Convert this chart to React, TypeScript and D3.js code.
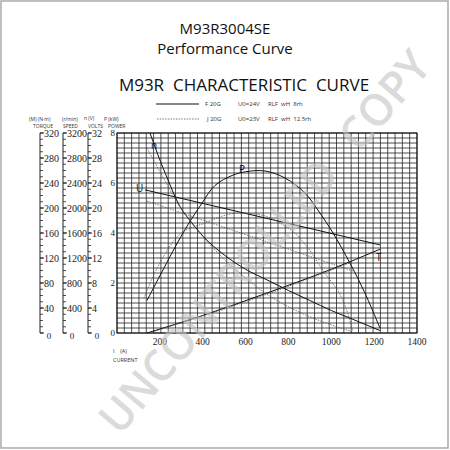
import React from 'react';
import * as d3 from 'd3';

// ---- data ----
const currentTicks = [200, 400, 600, 800, 1000, 1200, 1400];
const powerTicks = [0, 2, 4, 6, 8];
const torqueTicks = [0, 40, 80, 120, 160, 200, 240, 280, 320];
const speedTicks = [0, 400, 800, 1200, 1600, 2000, 2400, 2800, 3200];
const voltTicks = [0, 4, 8, 12, 16, 20, 24, 28, 32];

// solid curves (F 20G, U0=24V)
const nSolidI = [154, 191, 238, 285, 350, 401, 500, 600, 700, 800, 900, 1000, 1100, 1227];
const nSolidV = [3200, 2850, 2450, 2080, 1760, 1550, 1250, 1020, 850, 680, 520, 360, 220, 40];
const uSolidI = [131, 1227];
const uSolidV = [22.9, 14.1];
const tSolidI = [140, 400, 700, 1000, 1227];
const tSolidV = [0, 28, 64, 102, 134];
const pSolidI = [140, 308, 397, 457, 537, 600, 691, 784, 877, 947, 1008, 1087, 1157, 1227];
const pSolidV = [1.3, 4.0, 5.2, 5.9, 6.3, 6.45, 6.48, 6.2, 5.6, 4.8, 4.0, 2.8, 1.6, 0.2];

// dotted curves (J 20G, U0=23V)
const nDotI = [140, 201, 303, 387, 500, 600, 700, 800, 900, 1000, 1100];
const nDotV = [2960, 2576, 1968, 1600, 1180, 880, 620, 420, 260, 130, 20];
const uDotI = [140, 1111];
const uDotV = [21.1, 9.8];
const tDotI = [150, 600, 1100];
const tDotV = [0, 50, 114];
const pDotI = [126, 200, 300, 411, 500, 574, 691, 760, 830, 900, 961, 1030, 1064, 1100];
const pDotV = [1.4, 2.8, 4.0, 4.4, 4.7, 4.8, 4.68, 4.4, 4.0, 3.3, 2.5, 1.7, 1.1, 0.1];

const serif = '"Liberation Serif", "DejaVu Serif", serif';
const sans = '"Open Sans", "Noto Sans", sans-serif';

export default function App() {
  const L = 117, R = 417, T = 133, B = 333;
  const x = d3.scaleLinear().domain([0, 1400]).range([L, R]);
  const yP = d3.scaleLinear().domain([0, 8]).range([B, T]);
  const yT = d3.scaleLinear().domain([0, 320]).range([B, T]);
  const yN = d3.scaleLinear().domain([0, 3200]).range([B, T]);
  const yU = d3.scaleLinear().domain([0, 32]).range([B, T]);

  const mk = (xs: number[], ys: number[], sy: any, curve: any) =>
    d3.line().curve(curve)(xs.map((v, i) => [x(v), sy(ys[i])] as [number, number])) || '';

  const vDiv = 41, hDiv = 40;
  const vLines = d3.range(vDiv + 1).map(i => L + (i * (R - L)) / vDiv);
  const hLines = d3.range(hDiv + 1).map(i => T + (i * (B - T)) / hDiv);

  const axis = (ax: number, sc: any, ticks: number[], minorStep: number, max: number) => {
    const minors = d3.range(0, max + minorStep / 2, minorStep);
    return (
      <g>
        <line x1={ax} x2={ax} y1={sc(max)} y2={sc(0)} stroke="#222" strokeWidth={1} />
        {minors.map(m => (
          <line key={'m' + m} x1={ax} x2={ax + 3} y1={sc(m)} y2={sc(m)} stroke="#222" strokeWidth={0.8} />
        ))}
        {ticks.map(t => (
          t === 0 ? (
            <g key={t}>
              <line x1={ax} x2={ax + 4} y1={sc(0)} y2={sc(0)} stroke="#222" strokeWidth={1} />
              <text x={ax + 9} y={sc(0) + 6} fontSize={9} fontFamily={serif} textAnchor="middle" fill="#222">0</text>
            </g>
          ) : (
            <g key={t}>
              <line x1={ax} x2={ax + 4} y1={sc(t)} y2={sc(t)} stroke="#222" strokeWidth={1} />
              <text x={ax + 4} y={sc(t) + 3.5} fontSize={10} fontFamily={serif} fill="#222">{t}</text>
            </g>
          )
        ))}
      </g>
    );
  };

  const solid = { fill: 'none', stroke: '#111', strokeWidth: 1 };
  const dotted = { fill: 'none', stroke: '#555', strokeWidth: 0.8, strokeDasharray: '1.5,1.2' };

  // watermark placement along the diagonal
  const wmStart = [120, 418];
  const wmDir = [0.647, -0.763];
  const step = 28.5;
  const at = (k: number) => [wmStart[0] + wmDir[0] * step * k, wmStart[1] + wmDir[1] * step * k];
  const w1 = at(5.5);
  const w2 = at(14.5);
  const wmStyle = {
    fontFamily: sans,
    fontWeight: 600,
    fontSize: 44,
    fill: '#c4c4c4',
    opacity: 0.6,
  } as any;

  return (
    <svg width={450} height={450} style={{ position: 'fixed', left: 0, top: 0, background: '#fff' }}>
      <rect x={0} y={0} width={450} height={450} fill="#fff" />
      <rect x={1} y={1} width={447} height={447} fill="none" stroke="#aaa" strokeWidth={1.5} />

      {/* titles */}
      <text x={225} y={34} textAnchor="middle" fontFamily={sans} fontSize={15} fill="#111">M93R3004SE</text>
      <text x={225} y={54} textAnchor="middle" fontFamily={sans} fontSize={15} fill="#111">Performance Curve</text>
      <text x={244} y={91} textAnchor="middle" fontFamily={sans} fontSize={17} fill="#111" style={{ whiteSpace: 'pre' }}>M93R  CHARACTERISTIC  CURVE</text>

      {/* legend */}
      <line x1={156} x2={199} y1={104} y2={104} {...solid} />
      <text x={205} y={106} fontFamily={sans} fontSize={6} fill="#333">F  20G</text>
      <text x={238} y={106} fontFamily={sans} fontSize={6} fill="#333">U0=24V</text>
      <text x={268} y={106} fontFamily={sans} fontSize={6} fill="#333" style={{ whiteSpace: 'pre' }}>RLF  wH  8rh</text>
      <line x1={157} x2={200} y1={119} y2={119} {...dotted} />
      <text x={207} y={121} fontFamily={sans} fontSize={6} fill="#333">J  20G</text>
      <text x={238} y={121} fontFamily={sans} fontSize={6} fill="#333">U0=23V</text>
      <text x={268} y={121} fontFamily={sans} fontSize={6} fill="#333" style={{ whiteSpace: 'pre' }}>RLF  wH  12.5rh</text>

      {/* left axis headers */}
      <g fontFamily={sans} fontSize={5} fill="#333" style={{ whiteSpace: 'pre' }}>
        <text x={29} y={121}>(M)  (N·m)</text>
        <text x={62} y={121}>(r/min)</text>
        <text x={84} y={120}>n    (V)</text>
        <text x={104} y={121}>P  (kW)</text>
        <text x={33} y={128}>TORQUE</text>
        <text x={63} y={128}>SPEED</text>
        <text x={88} y={128}>VOLTS</text>
        <text x={108} y={128}>POWER</text>
      </g>

      {axis(40, yT, torqueTicks, 10, 320)}
      {axis(63, yN, speedTicks, 100, 3200)}
      {axis(88, yU, voltTicks, 1, 32)}

      {/* grid */}
      <g>
        {hLines.map((y, i) => (
          <line key={'h' + i} x1={L} x2={R} y1={y} y2={y} stroke="#222" strokeWidth={0.8} />
        ))}
        {vLines.map((vx, i) => (
          <line key={'v' + i} x1={vx} x2={vx} y1={T} y2={B} stroke="#222" strokeWidth={0.8} />
        ))}
        <rect x={L} y={T} width={R - L} height={B - T} fill="none" stroke="#111" strokeWidth={1} />
      </g>

      {/* power ticks */}
      {powerTicks.map(p => (
        <text key={p} x={115} y={yP(p) + 3} textAnchor="end" fontFamily={serif} fontSize={9} fill="#222">{p}</text>
      ))}
      {/* current ticks */}
      {currentTicks.map(c => (
        <text key={c} x={x(c)} y={345} textAnchor="middle" fontFamily={serif} fontSize={9.5} fill="#222">{c}</text>
      ))}
      <text x={113} y={353} fontFamily={sans} fontSize={5.5} fill="#333" style={{ whiteSpace: 'pre' }}>I    (A)</text>
      <text x={113} y={362} fontFamily={sans} fontSize={5.5} fill="#333">CURRENT</text>

      {/* curves */}
      <path d={mk(nSolidI, nSolidV, yN, d3.curveMonotoneX)} {...solid} />
      <path d={mk(uSolidI, uSolidV, yU, d3.curveLinear)} {...solid} />
      <path d={mk(tSolidI, tSolidV, yT, d3.curveMonotoneX)} {...solid} />
      <path d={mk(pSolidI, pSolidV, yP, d3.curveCatmullRom)} {...solid} />
      <path d={mk(nDotI, nDotV, yN, d3.curveMonotoneX)} {...dotted} />
      <path d={mk(uDotI, uDotV, yU, d3.curveLinear)} {...dotted} />
      <path d={mk(tDotI, tDotV, yT, d3.curveMonotoneX)} {...dotted} />
      <path d={mk(pDotI, pDotV, yP, d3.curveCatmullRom)} {...dotted} />

      {/* curve labels */}
      <g fontFamily={sans} fontSize={10} fill="#111">
        <text x={151} y={149}>n</text>
        <text x={136} y={192}>U</text>
        <text x={239} y={173}>P</text>
        <text x={376} y={261}>T</text>
      </g>

      {/* watermark */}
      <text
        transform={`translate(${w1[0]},${w1[1]}) rotate(-49.7)`}
        textAnchor="middle"
        dominantBaseline="middle"
        textLength={12 * step}
        lengthAdjust="spacingAndGlyphs"
        {...wmStyle}
      >UNCONTROLLED</text>
      <text
        transform={`translate(${w2[0]},${w2[1]}) rotate(-49.7)`}
        textAnchor="middle"
        dominantBaseline="middle"
        textLength={4 * step}
        lengthAdjust="spacingAndGlyphs"
        {...wmStyle}
      >COPY</text>
    </svg>
  );
}
